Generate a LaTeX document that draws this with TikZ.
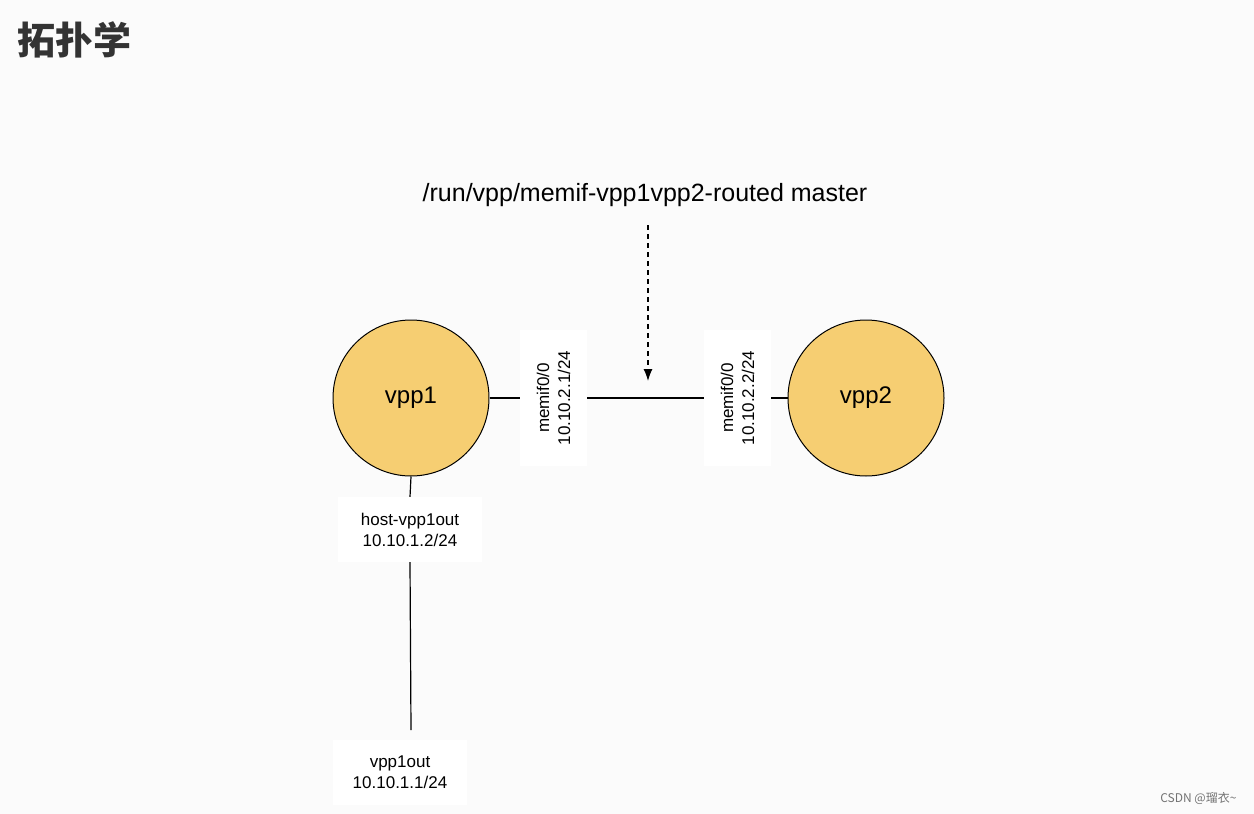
\documentclass[tikz,border=0pt]{standalone}
\usepackage{fontspec}
\usetikzlibrary{arrows.meta}
\setmainfont{Liberation Sans}
\newfontfamily\cjk{Noto Sans CJK SC}
\begin{document}
\begin{tikzpicture}[x=1pt,y=-1pt,
  vpp/.style={circle,draw=black,line width=1pt,fill=yellowc,minimum size=156pt,inner sep=0pt,font=\fontsize{24}{28}\selectfont},
  lbl/.style={fill=white,inner sep=0pt,align=center,font=\fontsize{17}{21}\selectfont},
  wire/.style={line width=1.2pt}]
\definecolor{yellowc}{HTML}{F6CE72}
\definecolor{bgc}{HTML}{FBFBFB}
\fill[bgc] (0,0) rectangle (1254,814);
\useasboundingbox (0,0) rectangle (1254,814);
\node[anchor=west,font=\cjk\bfseries\fontsize{38}{44}\selectfont,text=black!80] (title) at (14,40) {拓扑学};
\node[vpp] (v1) at (411,398) {vpp1};
\node[vpp] (v2) at (866,398) {vpp2};
\node[lbl,minimum width=136pt,minimum height=67pt,rotate=90] (m1) at (553.5,398) {memif0/0\\10.10.2.1/24};
\node[lbl,minimum width=136pt,minimum height=67pt,rotate=90] (m2) at (737.5,398) {memif0/0\\10.10.2.2/24};
\node[lbl,minimum width=144pt,minimum height=65pt] (h) at (410,529.5) {host-vpp1out\\10.10.1.2/24};
\node[lbl,minimum width=134pt,minimum height=65pt] (o) at (400,772.5) {vpp1out\\10.10.1.1/24};
\node[font=\fontsize{25}{30}\selectfont] (top) at (645,195) {/run/vpp/memif-vpp1vpp2-routed master};
\coordinate (a1) at (648,225);
\coordinate (a2) at (648,381);
\coordinate (b1) at (411,730);
\draw[wire] (v1.east) -- (m1.north);
\draw[wire] (m1.south) -- (m2.north);
\draw[wire] (m2.south) -- (v2.west);
\draw[wire] (v1.south) -- (h.north);
\draw[wire] (h.south) -- (b1);
\draw[line width=1.2pt,dash pattern=on 5pt off 4pt,-{Latex[length=12pt,width=9pt]}] (a1) -- (a2);
\node[font=\cjk\fontsize{12}{14}\selectfont,text=black!55,anchor=east] (wm) at (1240,798) {CSDN @瑠衣\textasciitilde};
\end{tikzpicture}
\end{document}
